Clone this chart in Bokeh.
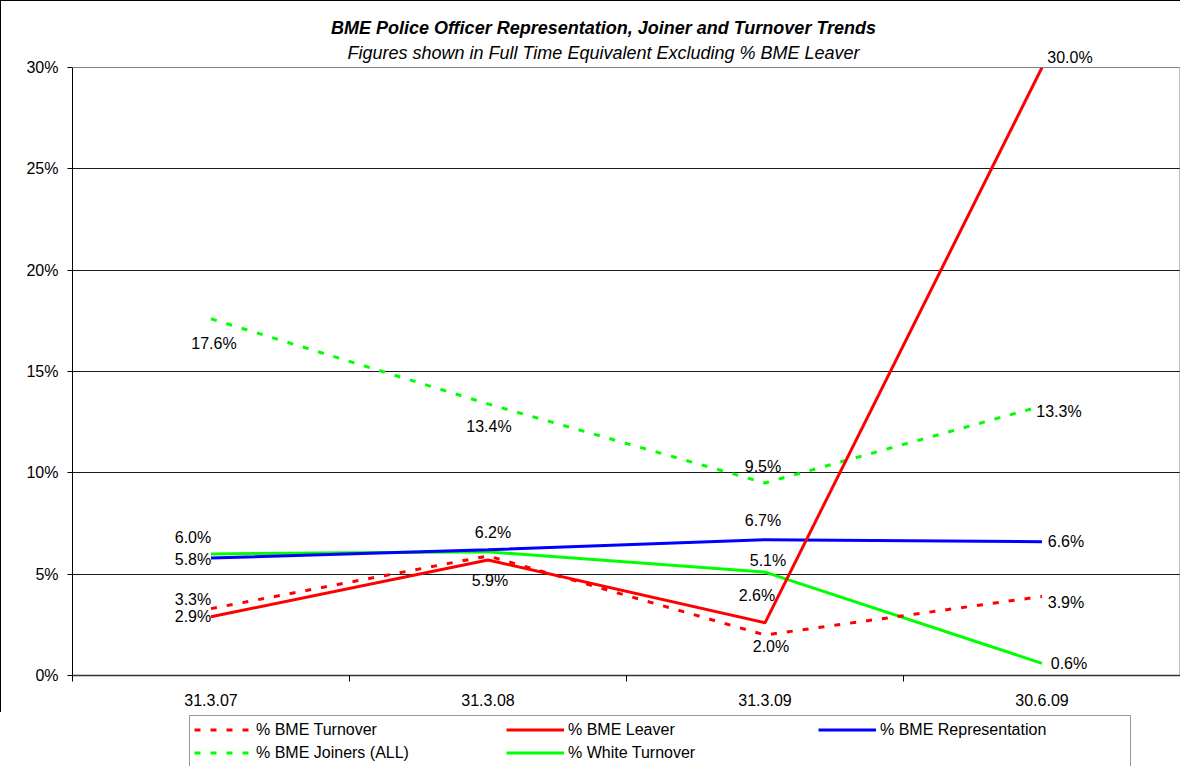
import numpy as np
from bokeh.plotting import figure
from bokeh.layouts import column
from bokeh.models import (ColumnDataSource, FixedTicker, Legend, LegendItem,
                          LabelSet, Label, Range1d, Span)
from bokeh.core.properties import value
from bokeh.embed import file_html
from bokeh.resources import INLINE

# ---------------- data ----------------
categories = ["31.3.07", "31.3.08", "31.3.09", "30.6.09"]
bme_turnover = [3.3, 5.9, 2.0, 3.9]
bme_leaver = [2.9, 5.7, 2.6, 30.0]
bme_representation = [5.8, 6.2, 6.7, 6.6]
bme_joiners = [17.6, 13.4, 9.5, 13.3]
white_turnover = [6.0, 6.1, 5.1, 0.6]

y_ticks = [0, 5, 10, 15, 20, 25, 30]
y_tick_labels = ["0%", "5%", "10%", "15%", "20%", "25%", "30%"]

title_text = "BME Police Officer Representation, Joiner and Turnover Trends"
subtitle_text = "Figures shown in Full Time Equivalent Excluding % BME Leaver"

series_names = ["% BME Turnover", "% BME Leaver", "% BME Representation",
                "% BME Joiners (ALL)", "% White Turnover"]

# which data labels are visible in the original (overlapping ones hidden)
show_turnover = [True, True, True, True]
show_leaver = [True, False, True, True]
show_representation = [True, True, True, True]
show_joiners = [True, True, True, True]
show_white = [True, False, True, True]

# label placement offsets in pixels (dx right, dy up)
off_turnover = [(-18, 9), (2, -25), (6, -12), (24, -6)]
off_leaver = [(-18, 0), (0, 0), (-8, 27), (28, 10)]
off_representation = [(-18, -2), (5, 17), (-2, 19), (24, 0)]
off_joiners = [(3, -25), (1, -23), (-2, 16), (17, -6)]
off_white = [(-18, 16), (0, 0), (3, 12), (27, 0)]

FONT = "Liberation Sans"

# layout (pixels): header area is kept inside the plot frame so that the
# labels drawn above the 30% line are not clipped
HEADER_PX = 66
PLOT_PX = 608
BOTTOM_PX = 38
y_end = y_ticks[-1] * (1 + HEADER_PX / PLOT_PX)

x = list(np.arange(len(categories)) + 0.5)
boundaries = list(np.arange(len(categories) + 1).astype(float))
x_end = float(len(categories))

p = figure(width=1180, height=HEADER_PX + PLOT_PX + BOTTOM_PX, output_backend="svg",
           toolbar_location=None,
           x_range=Range1d(0, x_end), y_range=Range1d(0, y_end),
           min_border_left=71, min_border_right=1, min_border_bottom=BOTTOM_PX,
           min_border_top=0, background_fill_color="white",
           border_fill_color="white")
p.title = None
p.styles = {"border-left": "1px solid black", "border-top": "1px solid black"}

# frame / grid
p.outline_line_color = None
p.xgrid.visible = False
p.ygrid.ticker = FixedTicker(ticks=y_ticks[:-1])
p.ygrid.grid_line_color = "#1a1a1a"
p.ygrid.grid_line_width = 1
p.add_layout(Span(location=y_ticks[-1], dimension="width", line_color="#808080",
                  line_width=1))
p.segment(x0=[x_end], y0=[y_ticks[0]], x1=[x_end], y1=[y_ticks[-1]],
          line_color="#808080", line_width=2)

# y axis
p.yaxis.ticker = FixedTicker(ticks=y_ticks)
p.yaxis.bounds = (y_ticks[0], y_ticks[-1])
p.yaxis.major_label_overrides = {t: l for t, l in zip(y_ticks, y_tick_labels)}
p.yaxis.major_tick_out = 5
p.yaxis.major_tick_in = 0
p.yaxis.minor_tick_line_color = None
p.yaxis.axis_line_color = "black"
p.yaxis.major_tick_line_color = "black"
p.yaxis.major_label_standoff = 9
p.yaxis.major_label_text_font = FONT
p.yaxis.major_label_text_font_size = "16px"
p.yaxis.major_label_text_color = "black"

# x axis
p.xaxis.ticker = FixedTicker(ticks=x, minor_ticks=boundaries)
p.xaxis.major_label_overrides = {t: c for t, c in zip(x, categories)}
p.xaxis.major_tick_out = 0
p.xaxis.major_tick_in = 0
p.xaxis.major_tick_line_color = None
p.xaxis.minor_tick_out = 6
p.xaxis.minor_tick_in = 0
p.xaxis.minor_tick_line_color = "black"
p.xaxis.axis_line_color = "#333333"
p.xaxis.axis_line_width = 1.5
p.xaxis.major_label_standoff = 12
p.xaxis.major_label_text_font = FONT
p.xaxis.major_label_text_font_size = "16px"
p.xaxis.major_label_text_color = "black"

# titles (drawn inside the header part of the frame)
p.add_layout(Label(x=x_end / 2, y=y_ticks[-1], x_offset=-23, y_offset=40,
                   text=title_text, text_align="center", text_baseline="middle",
                   text_font=FONT, text_font_style="bold italic",
                   text_font_size="18px", text_color="black"))
p.add_layout(Label(x=x_end / 2, y=y_ticks[-1], x_offset=-23, y_offset=15,
                   text=subtitle_text, text_align="center", text_baseline="middle",
                   text_font=FONT, text_font_style="italic",
                   text_font_size="18px", text_color="black"))

# lines
styles = [dict(line_color="#FF0000", line_dash="6 10"),
          dict(line_color="#FF0000", line_dash="solid"),
          dict(line_color="#0000FF", line_dash="solid"),
          dict(line_color="#00FF00", line_dash="6 10"),
          dict(line_color="#00FF00", line_dash="solid")]
series = [bme_turnover, bme_leaver, bme_representation, bme_joiners, white_turnover]
draw_order = [4, 3, 2, 1, 0]
for i in draw_order:
    p.line(x, series[i], line_width=3, **styles[i])

# data labels
lx, ly, lt, ldx, ldy = [], [], [], [], []
for vals, shows, offs in [(bme_joiners, show_joiners, off_joiners),
                          (white_turnover, show_white, off_white),
                          (bme_representation, show_representation, off_representation),
                          (bme_turnover, show_turnover, off_turnover),
                          (bme_leaver, show_leaver, off_leaver)]:
    for xi, v, s, o in zip(x, vals, shows, offs):
        if not s:
            continue
        lx.append(xi)
        ly.append(v)
        lt.append(f"{v:.1f}%")
        ldx.append(o[0])
        ldy.append(o[1])
lsrc = ColumnDataSource(dict(x=lx, y=ly, text=lt, dx=ldx, dy=ldy))
labels = LabelSet(x="x", y="y", text="text", x_offset="dx", y_offset="dy", source=lsrc,
                  text_align="center", text_baseline="middle", text_font=value(FONT),
                  text_font_size=value("16px"), text_color="black")
p.add_layout(labels)

# legend: separate strip below the chart (its frame is aligned with the chart's);
# the series are drawn there out of view only to provide the legend samples
LEG_H = 54
p2 = figure(width=1180, height=LEG_H, output_backend="svg", toolbar_location=None,
            x_range=Range1d(0, x_end), y_range=Range1d(-2, -1),
            x_axis_location=None, y_axis_location=None,
            min_border=0, min_border_left=0, min_border_right=0,
            min_border_top=0, min_border_bottom=0,
            background_fill_color="white", border_fill_color="white")
p2.title = None
p2.outline_line_color = None
p2.xgrid.visible = False
p2.ygrid.visible = False
items = []
for name, st, vals in zip(series_names, styles, series):
    r = p2.line(x=x, y=vals, line_width=3, **st)
    items.append(LegendItem(label=name, renderers=[r]))
legend = Legend(items=items, ncols=3, orientation="horizontal", location=(118, -1),
                glyph_width=58, glyph_height=19, label_height=19, label_width=246,
                label_standoff=4, spacing=4, padding=4, margin=0,
                label_text_font=FONT, label_text_font_size="16px",
                label_text_color="black",
                border_line_color="#333333", border_line_width=1,
                background_fill_color="white", background_fill_alpha=1.0)
p2.add_layout(legend)

layout = column(p, p2, spacing=0)
open("out.html", "w").write(file_html(layout, INLINE))
